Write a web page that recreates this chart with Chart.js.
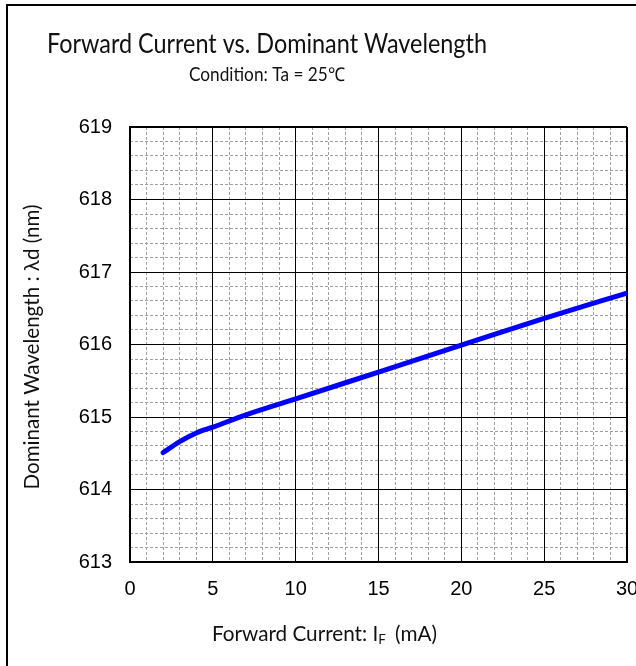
<!DOCTYPE html>
<html>
<head>
<meta charset="utf-8">
<script src="https://cdn.jsdelivr.net/npm/chart.js@4"></script>
<style>
  html, body { margin: 0; padding: 0; background: #fff; overflow: hidden; }
  #wrap { position: relative; width: 636px; height: 666px; overflow: hidden; }
  #frame { position: absolute; left: 6px; top: 4px; width: 700px; height: 700px;
           border-left: 2px solid #000; border-top: 2px solid #000; }
  #chart { position: absolute; left: 0; top: 0; }
</style>
</head>
<body>
<div id="wrap">
  <div id="frame"></div>
  <canvas id="chart" width="660" height="666"></canvas>
</div>
<script>
// values
const currents = [2, 3, 4, 5, 7, 10, 15, 20, 25, 30];
const wavelengths = [614.51, 614.66, 614.78, 614.86, 615.03, 615.25, 615.62, 615.99, 616.36, 616.71];

const titleText = 'Forward Current vs. Dominant Wavelength';
const subtitleText = 'Condition: Ta = 25\u2103';
const yTitleText = 'Dominant Wavelength : \u03bbd (nm)';
const xTitleMain = 'Forward Current: I';
const xTitleSub = 'F';
const xTitleUnit = ' (mA)';

const textFont = 'Lato, "Open Sans", sans-serif';
const tickFont = '"Liberation Sans Narrow", "Liberation Sans", Arial, sans-serif';

// draw text at a given font size, squeezed sideways to the given width
function squeezed(ctx, text, x, y, size, width) {
    ctx.font = size + 'px ' + textFont;
    const w = ctx.measureText(text).width;
    ctx.save();
    ctx.translate(x, y);
    ctx.scale(width / w, 1);
    ctx.textAlign = 'center';
    ctx.fillText(text, 0, 0);
    ctx.restore();
}

const textPlugin = {
    id: 'texts',
    afterDraw(chart) {
        const ctx = chart.ctx;
        ctx.save();
        ctx.fillStyle = '#111';
        ctx.textBaseline = 'alphabetic';

        squeezed(ctx, titleText, 267, 53, 27, 440);
        squeezed(ctx, subtitleText, 267, 81, 19, 156);

        // y axis title
        ctx.save();
        ctx.translate(39, 347);
        ctx.rotate(-Math.PI / 2);
        squeezed(ctx, yTitleText, 0, 0, 21, 285);
        ctx.restore();

        // x axis title with subscript F
        const size = 21, base = 641;
        ctx.font = size + 'px ' + textFont;
        const w1 = ctx.measureText(xTitleMain).width;
        const w3 = ctx.measureText(xTitleUnit).width;
        ctx.font = (size * 0.65) + 'px ' + textFont;
        const w2 = ctx.measureText(xTitleSub).width;
        const k = 225 / (w1 + w2 + w3 + 4);
        ctx.save();
        ctx.translate(212, base);
        ctx.scale(k, 1);
        ctx.textAlign = 'left';
        ctx.font = size + 'px ' + textFont;
        ctx.fillText(xTitleMain, 0, 0);
        ctx.font = (size * 0.65) + 'px ' + textFont;
        ctx.fillText(xTitleSub, w1, 3);
        ctx.font = size + 'px ' + textFont;
        ctx.fillText(xTitleUnit, w1 + w2 + 4, 0);
        ctx.restore();
        ctx.restore();
    }
};

const minorColor = step => c => {
    const v = c.tick ? c.tick.value : 0;
    return Math.abs(v / step - Math.round(v / step)) < 1e-6 ? 'rgba(0,0,0,0)' : '#a0a0a0';
};

new Chart(document.getElementById('chart'), {
    type: 'line',
    data: {
        datasets: [{
            data: currents.map((c, i) => ({ x: c, y: wavelengths[i] })),
            borderColor: '#0000ff',
            borderWidth: 5,
            borderCapStyle: 'round',
            pointRadius: 0,
            fill: false,
            cubicInterpolationMode: 'monotone',
            xAxisID: 'x',
            yAxisID: 'y'
        }]
    },
    options: {
        responsive: false,
        animation: false,
        devicePixelRatio: 1,
        layout: { padding: { left: 60, right: 33, top: 127, bottom: 64 } },
        plugins: {
            legend: { display: false },
            tooltip: { enabled: false },
            title: { display: false }
        },
        scales: {
            xMinor: {
                type: 'linear', position: 'bottom', min: 0, max: 30,
                ticks: { stepSize: 1, display: false },
                grid: { color: minorColor(5), drawTicks: false, lineWidth: 1 },
                border: { display: false, dash: [3, 2] },
                afterFit: s => { s.height = 0; }
            },
            yMinor: {
                type: 'linear', position: 'left', min: 613, max: 619,
                ticks: { stepSize: 0.2, display: false },
                grid: { color: minorColor(1), drawTicks: false, lineWidth: 1 },
                border: { display: false, dash: [3, 2] },
                afterFit: s => { s.width = 0; }
            },
            x: {
                type: 'linear', position: 'bottom', min: 0, max: 30,
                ticks: { stepSize: 5, color: '#000', padding: 15, maxRotation: 0,
                         font: { family: tickFont, size: 20 } },
                grid: { color: '#000', drawTicks: false,
                        lineWidth: c => (c.tick && c.tick.value === 30) ? 2 : 1 },
                border: { color: '#000', width: 2 },
                afterFit: s => { s.height = 40; }
            },
            y: {
                type: 'linear', position: 'left', min: 613, max: 619,
                ticks: { stepSize: 1, color: '#000', padding: 18,
                         font: { family: tickFont, size: 20 } },
                grid: { color: '#000', drawTicks: false,
                        lineWidth: c => (c.tick && c.tick.value === 619) ? 2 : 1 },
                border: { color: '#000', width: 2 },
                afterFit: s => { s.width = 70; }
            }
        }
    },
    plugins: [textPlugin]
});
</script>
</body>
</html>
